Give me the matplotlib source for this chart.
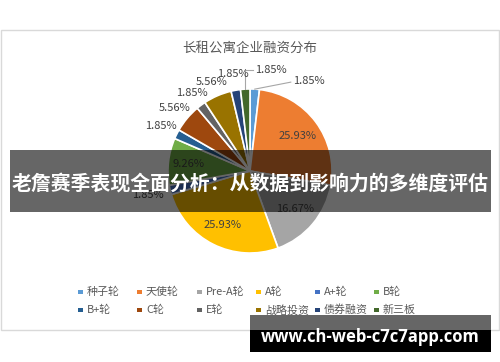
import matplotlib
matplotlib.use("Agg")
import matplotlib.pyplot as plt
from matplotlib.patches import Rectangle
import numpy as np

plt.rcParams['font.family'] = ['Noto Sans CJK SC', 'DejaVu Sans']

# Financing rounds and their share (%)
categories = ['种子轮', '天使轮', 'Pre-A轮', 'A轮', 'A+轮', 'B轮',
              'B+轮', 'C轮', 'E轮', '战略投资', '债券融资', '新三板']
shares = [1.85, 25.93, 16.67, 25.93, 1.85, 9.26,
          1.85, 5.56, 1.85, 5.56, 1.85, 1.85]
colors = ['#5B9BD5', '#ED7D31', '#A5A5A5', '#FFC000', '#4472C4', '#70AD47',
          '#255E91', '#9E480E', '#636363', '#997300', '#264478', '#43682B']

title = '长租公寓企业融资分布'
banner = '老詹赛季表现全面分析：从数据到影响力的多维度评估'
site = 'www.ch-web-c7c7app.com'

W, H = 500, 362
fig = plt.figure(figsize=(W / 100, H / 100), dpi=100)
ax = fig.add_axes([0, 0, 1, 1])

def py(y):
    # convert top-down pixel row to axis y
    return H - y

cx, cy, R = 250, py(171), 82
wedges, _ = ax.pie(shares, colors=colors, startangle=90, counterclock=False,
                   center=(cx, cy), radius=R, explode=[0.025] * len(shares),
                   wedgeprops=dict(edgecolor='white', linewidth=1.2),
                   frame=True)
ax.set_xlim(0, W)
ax.set_ylim(0, H)
ax.set_aspect('equal')
ax.axis('off')

# chart frame
ax.add_patch(Rectangle((1, py(330)), 498, 300, fill=False,
                       edgecolor='#D9D9D9', linewidth=1.0))

ax.text(250, py(48), title, ha='center', va='center',
        fontsize=9.7, color='#595959')

# label distance (fraction of radius) per slice
label_r = [None, 0.72, 0.72, 0.74, 1.28, 0.76,
           1.22, 1.2, 1.18, 1.18, 1.2, None]
total = sum(shares)
cum = np.cumsum([0] + shares[:-1])
for i, (s, c0) in enumerate(zip(shares, cum)):
    mid = (c0 + s / 2) / total * 360.0
    th = np.deg2rad(90 - mid)
    txt = f'{s:.2f}%'
    if label_r[i] is not None:
        r = label_r[i] * R
        ax.text(cx + r * np.cos(th), cy + r * np.sin(th), txt,
                ha='center', va='center', fontsize=8, color='#404040')
    else:
        ex, ey = cx + 1.0 * R * np.cos(th), cy + 1.0 * R * np.sin(th)
        if i == 0:
            ax.plot([ex, ex + 36], [ey, ey + 7], color='#A6A6A6', lw=0.8)
            ax.text(ex + 38, ey + 8, txt, ha='left', va='center',
                    fontsize=8, color='#404040')
        else:
            ax.plot([ex, ex, ex + 8], [ey, ey + 19, ey + 19],
                    color='#A6A6A6', lw=0.8)
            ax.text(ex + 10, ey + 19, txt, ha='left', va='center',
                    fontsize=8, color='#404040')

# legend, 6 columns x 2 rows
col_x = [80, 139, 199, 258, 317, 376]
row_y = [292, 310]
for i, (name, col) in enumerate(zip(categories, colors)):
    x0 = col_x[i % 6]
    y0 = py(row_y[i // 6])
    ax.add_patch(Rectangle((x0 - 2, y0 - 2), 4.5, 4.5, facecolor=col,
                           edgecolor='none'))
    ax.text(x0 + 7, y0, name, ha='left', va='center', fontsize=7.9,
            color='#595959')

# overlay banner across the middle
ax.add_patch(Rectangle((10, py(212)), 481, 62, facecolor='black',
                       alpha=0.6, edgecolor='none', zorder=10))
ax.text(250, py(183), banner, ha='center', va='center', fontsize=14.3,
        fontweight='bold', color='white', zorder=11)

# site badge at bottom right
ax.add_patch(Rectangle((250, py(330)), 241, 15, facecolor='#666666',
                       edgecolor='none', zorder=10))
ax.add_patch(Rectangle((250, py(352)), 241, 22, facecolor='black',
                       edgecolor='none', zorder=10))
ax.text(370, py(337), site, ha='center', va='center', fontsize=12,
        fontweight='bold', color='white', family='Open Sans', zorder=11)

fig.savefig('out.png', dpi=100, facecolor='white')
